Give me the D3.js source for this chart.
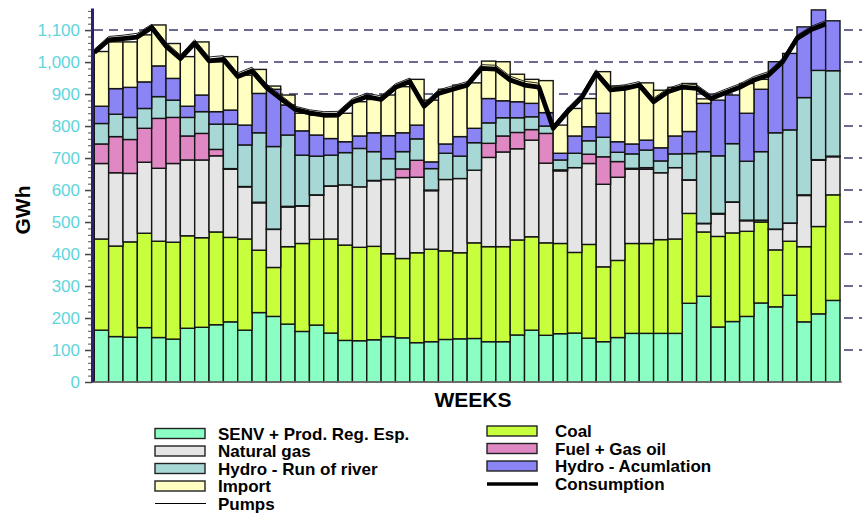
<!DOCTYPE html>
<html>
<head>
<meta charset="utf-8">
<script src="https://cdn.jsdelivr.net/npm/d3@7"></script>
<style>
body { margin: 0; background: #fff; }
svg { display: block; font-family: "Liberation Sans", Arial, sans-serif; }
</style>
</head>
<body>
<svg width="868" height="513"></svg>
<script>
// weekly values in GWh
var weeks = d3.range(1, 53);
var senv = [162,142,140,170,139,134,168,171,179,188,162,217,205,181,158,178,153,130,129,132,142,138,123,126,133,135,136,126,126,147,162,146,151,153,137,126,139,152,152,152,152,246,268,172,189,205,247,235,271,188,213,255];
var coal = [285,283,298,295,301,303,289,280,290,264,285,195,153,242,275,268,294,298,292,292,259,248,281,289,277,269,299,297,297,297,292,289,282,252,293,234,241,281,281,293,295,281,201,283,277,266,253,178,169,235,273,330];
var gas = [236,229,214,222,228,246,237,243,238,213,163,148,119,124,117,138,165,188,189,205,232,253,236,183,223,232,227,279,296,285,302,249,227,265,253,258,260,232,232,209,223,104,26,70,96,33,5,64,56,160,207,119];
var fuel = [61,113,106,106,156,144,75,83,20,2,1,2,1,2,1,1,1,0,0,1,0,27,53,2,0,0,0,44,50,51,33,93,3,0,29,86,49,3,5,0,0,1,1,2,1,2,1,1,1,2,2,2];
var ror = [64,70,69,62,68,54,58,68,79,139,130,217,258,223,158,121,96,101,120,90,65,54,67,67,82,70,86,64,57,46,40,23,31,45,42,61,29,45,55,37,43,82,224,180,182,184,214,301,291,304,279,267];
var acum = [54,80,94,83,96,68,35,52,39,44,62,123,179,94,76,66,52,34,39,59,72,59,43,21,29,61,45,76,53,50,42,42,21,54,44,75,33,31,31,41,56,69,151,174,152,150,195,222,239,221,189,156];
var imports = [171,146,142,147,128,109,155,166,156,167,156,75,10,31,55,62,68,89,107,104,127,144,143,193,171,161,142,117,122,86,75,100,88,86,88,130,174,181,179,180,152,150,14,0,0,93,31,0,0,0,0,0];
var consumption = [1030,1069,1073,1078,1108,1050,1011,1059,1004,1008,955,972,921,886,852,841,834,835,875,892,883,921,939,862,902,915,928,980,978,944,928,922,793,845,890,965,913,918,928,876,907,922,918,886,904,921,944,959,1001,1074,1102,1119];
var pumps = [1040,1080,1084,1090,1118,1062,1022,1070,1016,1020,966,984,932,897,862,851,845,846,886,903,894,932,950,872,913,926,939,992,990,956,940,934,803,856,901,976,924,929,939,887,918,933,929,897,915,932,955,970,1012,1084,1112,1130];
var yTicks = d3.range(0, 1101, 100);

var series = [
  {key: "senv", name: "SENV + Prod. Reg. Esp.", values: senv, color: "#8bffc3"},
  {key: "coal", name: "Coal", values: coal, color: "#c8ff3c"},
  {key: "gas", name: "Natural gas", values: gas, color: "#e5e5e5"},
  {key: "fuel", name: "Fuel + Gas oil", values: fuel, color: "#df88c4"},
  {key: "ror", name: "Hydro - Run of river", values: ror, color: "#a8d8d6"},
  {key: "acum", name: "Hydro - Acumlation", values: acum, color: "#8a84f4"},
  {key: "imp", name: "Import", values: imports, color: "#ffffc2"}
];

var rows = weeks.map(function(w, i) {
  var r = {week: w};
  series.forEach(function(s) { r[s.key] = s.values[i]; });
  return r;
});
var stacked = d3.stack().keys(series.map(function(s) { return s.key; }))(rows);

var svg = d3.select("svg");

var x = d3.scaleBand().domain(weeks).range([94.3, 840]).paddingInner(0);
var y = d3.scaleLinear().domain([0, 1169]).range([382, 8]);

// dashed grid behind bars
svg.append("g").selectAll("line")
  .data(yTicks.slice(1))
  .enter().append("line")
  .attr("x1", 94).attr("x2", 862)
  .attr("y1", function(d) { return y(d); })
  .attr("y2", function(d) { return y(d); })
  .attr("stroke", "#3d3a6e")
  .attr("stroke-width", 1.5)
  .attr("stroke-dasharray", "9,6");

// stacked bars
var layers = svg.append("g").selectAll("g")
  .data(stacked)
  .enter().append("g")
  .attr("fill", function(d, i) { return series[i].color; });

layers.selectAll("rect")
  .data(function(d) { return d; })
  .enter().append("rect")
  .attr("x", function(d) { return x(d.data.week); })
  .attr("width", x.bandwidth())
  .attr("y", function(d) { return y(d[1]); })
  .attr("height", function(d) { return y(d[0]) - y(d[1]); })
  .attr("stroke", "#151515")
  .attr("stroke-width", 1.4);

// baseline
svg.append("line")
  .attr("x1", 92).attr("x2", 842)
  .attr("y1", y(0)).attr("y2", y(0))
  .attr("stroke", "#777").attr("stroke-width", 1.5);

// consumption and pumps lines sit on the left edge of each week
var line = d3.line()
  .x(function(d, i) { return x(weeks[i]); })
  .y(function(d) { return y(d); });

svg.append("path")
  .datum(pumps)
  .attr("d", line)
  .attr("fill", "none")
  .attr("stroke", "#222")
  .attr("stroke-width", 1);

svg.append("path")
  .datum(consumption)
  .attr("d", line)
  .attr("fill", "none")
  .attr("stroke", "#000")
  .attr("stroke-width", 4.8)
  .attr("stroke-linejoin", "round");

// y axis: minor ticks then labelled ticks
svg.append("g")
  .attr("transform", "translate(92,0)")
  .call(d3.axisLeft(y).tickValues(d3.range(0, 1161, 20)).tickSize(4).tickSizeOuter(0).tickFormat(""))
  .call(function(g) {
    g.select(".domain").remove();
    g.selectAll(".tick line").attr("stroke", "#555");
  });

var yAxis = svg.append("g")
  .attr("transform", "translate(92,0)")
  .call(d3.axisLeft(y).tickValues(yTicks).tickSize(7).tickSizeOuter(0).tickPadding(5).tickFormat(d3.format(",")));
yAxis.select(".domain").attr("stroke", "#2b216e").attr("stroke-width", 3);
yAxis.selectAll(".tick line").attr("stroke", "#444").attr("stroke-width", 1.5);
yAxis.selectAll(".tick text")
  .attr("fill", "#5fd5dc")
  .style("font-size", "17px")
  .style("font-family", "'Liberation Sans', Arial, sans-serif");

// axis titles
svg.append("text")
  .attr("transform", "translate(30,210) rotate(-90)")
  .attr("text-anchor", "middle")
  .style("font-size", "21px")
  .style("font-weight", "bold")
  .text("GWh");

svg.append("text")
  .attr("x", 473).attr("y", 407)
  .attr("text-anchor", "middle")
  .style("font-size", "21px")
  .style("font-weight", "bold")
  .text("WEEKS");

// legend
var legendLeft = [
  {name: series[0].name, color: series[0].color, cy: 433.5},
  {name: series[2].name, color: series[2].color, cy: 451},
  {name: series[4].name, color: series[4].color, cy: 468.5},
  {name: series[6].name, color: series[6].color, cy: 486},
  {name: "Pumps", line: 1, cy: 503.5}
];
var legendRight = [
  {name: series[1].name, color: series[1].color, cy: 431},
  {name: series[3].name, color: series[3].color, cy: 448.5},
  {name: series[5].name, color: series[5].color, cy: 466},
  {name: "Consumption", line: 3.5, cy: 484}
];

function drawLegend(items, sx, tx) {
  var g = svg.append("g");
  items.forEach(function(d) {
    if (d.line) {
      g.append("line")
        .attr("x1", sx).attr("x2", sx + 51)
        .attr("y1", d.cy).attr("y2", d.cy)
        .attr("stroke", "#000").attr("stroke-width", d.line);
    } else {
      g.append("rect")
        .attr("x", sx).attr("y", d.cy - 5)
        .attr("width", 50).attr("height", 10)
        .attr("fill", d.color)
        .attr("stroke", "#222").attr("stroke-width", 1.4);
    }
    g.append("text")
      .attr("x", tx).attr("y", d.cy + 6)
      .style("font-size", "17px")
      .style("font-weight", "bold")
      .text(d.name);
  });
}
drawLegend(legendLeft, 155, 218);
drawLegend(legendRight, 487, 555);
</script>
</body>
</html>
